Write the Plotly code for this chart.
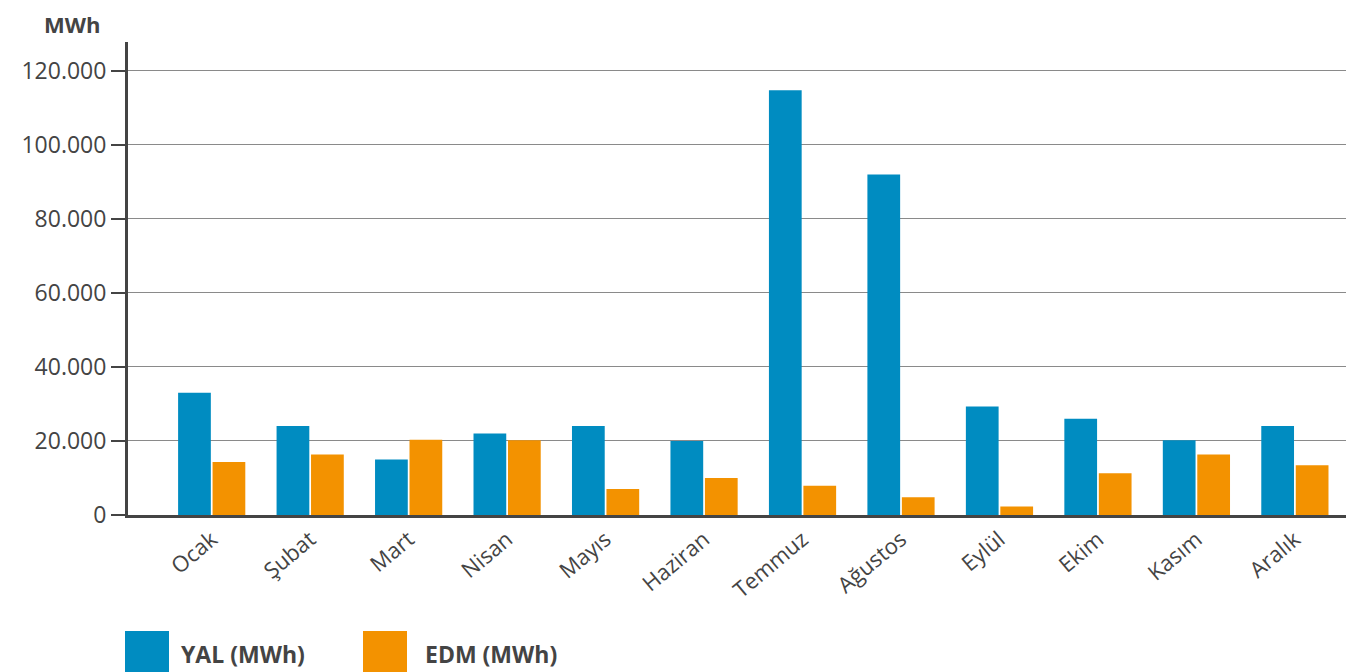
import plotly.graph_objects as go

months = ["Ocak", "Şubat", "Mart", "Nisan", "Mayıs", "Haziran",
          "Temmuz", "Ağustos", "Eylül", "Ekim", "Kasım", "Aralık"]
yal = [33000, 24000, 15000, 22000, 24000, 20000, 114700, 91900, 29300, 26000, 20200, 24000]
edm = [14300, 16300, 20300, 20200, 7000, 10000, 7900, 4800, 2300, 11300, 16300, 13400]
ytick_vals = [0, 20000, 40000, 60000, 80000, 100000, 120000]
ytick_text = ["0", "20.000", "40.000", "60.000", "80.000", "100.000", "120.000"]
series_names = ["YAL (MWh)", "EDM (MWh)"]
colors = ["#008cc1", "#f39200"]

FONT = "Open Sans"
TXT = "#444444"

fig = go.Figure()
fig.add_trace(go.Bar(x=months, y=yal, name=series_names[0], marker_color=colors[0], marker_line_width=0))
fig.add_trace(go.Bar(x=months, y=edm, name=series_names[1], marker_color=colors[1], marker_line_width=0))

# page body has an 8px margin; work in page pixels and convert
OFF = 8
W, H = 1346, 664
L, T = 128 - OFF, 42 - OFF
B = H - (515 - OFF)
R = W - (1352 - OFF)
pw, ph = W - L - R, H - T - B

def px(x):
    return (x - OFF - L) / pw

def py(y):
    return (H - B - (y - OFF)) / ph

shapes = []
annotations = []
# manual legend
leg = [(125, 169, 179), (363, 407, 423)]
for (x0, x1, tx), name, c in zip(leg, series_names, colors):
    shapes.append(dict(type="rect", xref="paper", yref="paper", x0=px(x0), x1=px(x1),
                       y0=py(680), y1=py(631), fillcolor=c, line_width=0, layer="above"))
    annotations.append(dict(xref="paper", yref="paper", x=px(tx), y=py(654), text="<b>" + name + "</b>",
                            showarrow=False, xanchor="left", yanchor="middle",
                            font=dict(family=FONT, size=23, color=TXT)))
annotations.append(dict(xref="paper", yref="paper", x=px(101), y=py(8), text="<b>MWh</b>",
                        showarrow=False, xanchor="right", yanchor="top", borderpad=0,
                        font=dict(family=FONT, size=22, color=TXT)))

fig.update_layout(
    width=W, height=H,
    margin=dict(l=L, r=R, t=T, b=B),
    plot_bgcolor="white", paper_bgcolor="white",
    barmode="group", bargap=0.3, bargroupgap=0.05,
    showlegend=False,
    shapes=shapes, annotations=annotations,
    font=dict(family=FONT, color=TXT),
    xaxis=dict(range=[-0.85, 11.58], showline=True, linecolor="#444444", linewidth=3,
               ticks="", tickangle=-40, tickfont=dict(size=22, color=TXT, family=FONT),
               showgrid=False, zeroline=False),
    yaxis=dict(range=[0, 127700], tickvals=ytick_vals, ticktext=ytick_text,
               showline=True, linecolor="#444444", linewidth=3,
               ticks="outside", ticklen=14, tickwidth=2, tickcolor="#444444",
               tickfont=dict(size=23, color=TXT, family=FONT),
               showgrid=True, gridcolor="#8a8a8a", gridwidth=1, zeroline=False),
)

fig.write_html("out.html")
